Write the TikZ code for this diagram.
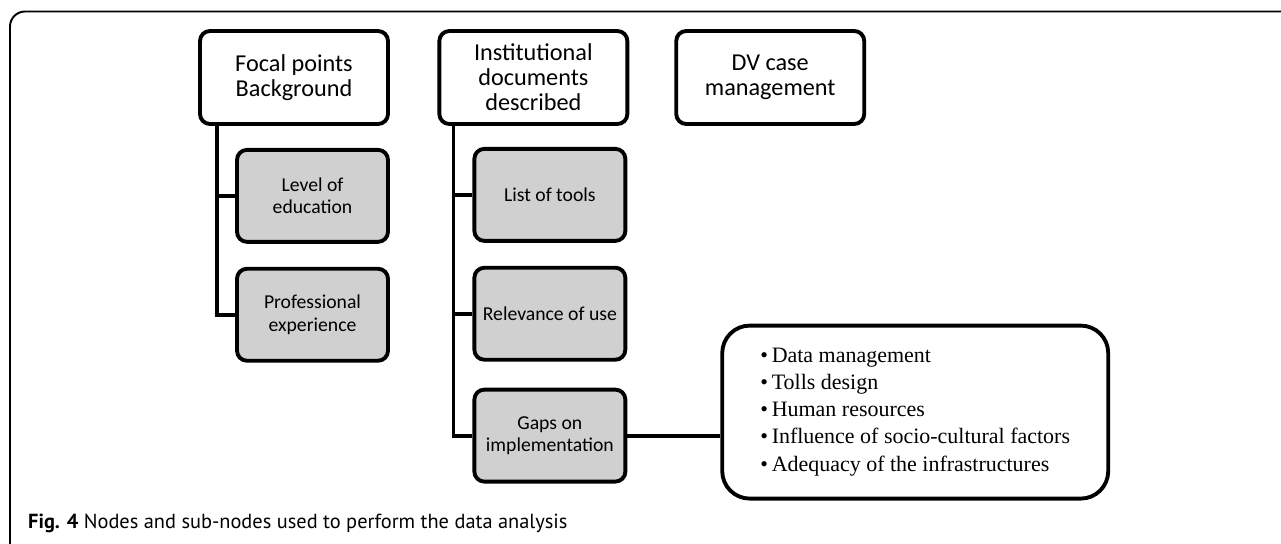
\documentclass[tikz,border=0pt]{standalone}
\usepackage{fontspec}
\setmainfont{Carlito}
\newfontfamily\listfont{Liberation Serif}
\newfontfamily\capfont{PT Sans}
\usetikzlibrary{positioning}
\definecolor{subgray}{RGB}{208,208,208}
\tikzset{
        base/.style={draw, line width=2.2pt, rounded corners=0.2cm, align=center},
        topbox/.style={base, fill=white, minimum width=3.76cm, minimum height=1.86cm,
                       font=\fontsize{13.8}{14.2}\selectfont},
        subbox/.style={base, fill=subgray, minimum width=3.02cm, minimum height=1.84cm,
                       font=\fontsize{11.2}{12.9}\selectfont},
        listbox/.style={base, rounded corners=0.55cm, minimum width=7.72cm,
                        minimum height=3.46cm, align=left,
                        font=\listfont\fontsize{12.5}{15.4}\selectfont},
        link/.style={line width=2.2pt},
 }
\begin{document}
\begin{tikzpicture}
    \useasboundingbox (0,0) rectangle (25.62,-10.88);
    \draw[line width=1.1pt, rounded corners=0.3cm] (0.2,-10.88) |- (25.62,-0.23);

    \node[topbox] (focal) at (5.88,-1.55) {Focal points\\Background};
    \node[topbox, right=0.95cm of focal] (inst) {Institutional\\documents\\described};
    \node[topbox, right=0.9cm of inst] (dv) {DV case\\management};

    \node[subbox, below left=0.44cm and 0cm of focal.south east] (level) {Level of\\education};
    \node[subbox, below=0.46cm of level] (prof) {Professional\\experience};

    \node[subbox, below left=0.42cm and 0.04cm of inst.south east] (tools) {List of tools};
    \node[subbox, below=0.46cm of tools] (relev) {Relevance of use};
    \node[subbox, below=0.52cm of relev] (gaps) {Gaps on\\implementation};

    \node[listbox, right=1.86cm of gaps, yshift=0.47cm] (issues) {\textbullet\,Data management\\
        \textbullet\,Tolls design\\
        \textbullet\,Human resources\\
        \textbullet\,Influence of socio-cultural factors\\
        \textbullet\,Adequacy of the infrastructures};

    \coordinate (fspine) at ([xshift=0.38cm]focal.south west);
    \coordinate (ispine) at ([xshift=0.32cm]inst.south west);

    \draw[link] (fspine) |- (level.west);
    \draw[link] (fspine) |- (prof.west);
    \draw[link] (ispine) |- (tools.west);
    \draw[link] (ispine) |- (relev.west);
    \draw[link] (ispine) |- (gaps.west);
    \draw[link] (gaps.east) -- (gaps.east -| issues.west);

    \node[anchor=west, font=\capfont\fontsize{11.6}{13}\selectfont] (caption) at (0.44,-10.46)
        {\textbf{Fig. 4} Nodes and sub-nodes used to perform the data analysis};
\end{tikzpicture}
\end{document}
